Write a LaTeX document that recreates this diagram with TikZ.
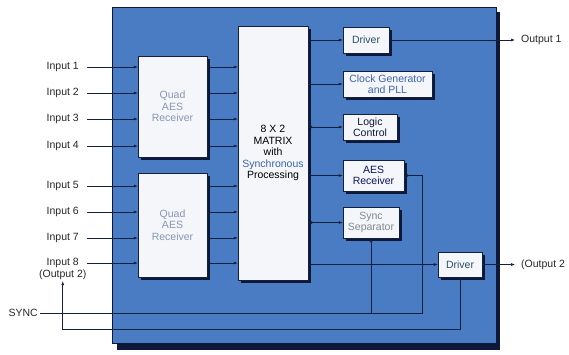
\documentclass[tikz,border=0pt]{standalone}
\usepackage{fontspec}
\setmainfont{Liberation Sans}
\usepackage{xcolor}
\usetikzlibrary{arrows.meta, positioning, shadows}

\definecolor{panelblue}{RGB}{74,124,196}
\definecolor{paneldark}{RGB}{14,24,56}
\definecolor{wirecol}{RGB}{20,32,64}
\definecolor{boxfill}{RGB}{244,246,250}
\definecolor{quadtext}{RGB}{135,150,178}
\definecolor{synblue}{RGB}{60,100,170}
\definecolor{teal}{RGB}{40,80,105}
\definecolor{greytext}{RGB}{130,138,145}

\begin{document}
\begin{tikzpicture}[
      x=1pt, y=-1pt,
      font=\fontsize{10.5}{11.5}\selectfont,
      blk/.style={rectangle, draw=wirecol, fill=boxfill, thin, align=center, inner sep=1pt,
        drop shadow={shadow xshift=2.5pt, shadow yshift=-2.5pt, fill=paneldark, opacity=1}},
      lbl/.style={anchor=east, inner xsep=8pt, inner ysep=1pt, text=black!85},
      outlbl/.style={anchor=west, inner xsep=6pt, inner ysep=1pt, text=black!85},
      arr/.style={-{Latex[length=4pt,width=3pt]}, semithick, draw=wirecol},
      biarr/.style={{Latex[length=4pt,width=3pt]}-{Latex[length=4pt,width=3pt]}, semithick, draw=wirecol},
      wire/.style={semithick, draw=wirecol}
    ]
      \useasboundingbox (0,0) rectangle (569,354);
      % panel with its dark edge
      \fill[paneldark] (117,12) rectangle (500,350);
      \filldraw[fill=panelblue, draw=paneldark] (112,7) rectangle (496,343);

      \node[blk, minimum width=69pt, minimum height=101pt, text=quadtext] (qa) at (172.5,106.5) {Quad\\AES\\Receiver};
      \node[blk, minimum width=69pt, minimum height=104pt, text=quadtext] (qb) at (172.5,225) {Quad\\AES\\Receiver};
      \node[blk, minimum width=70pt, minimum height=254pt] (mat) at (273,153)
        {8 X 2\\MATRIX\\with\\\textcolor{synblue}{Synchronous}\\Processing};
      \node[blk, minimum width=46pt, minimum height=26pt, text=teal] (drv1) at (366,40) {Driver};
      \node[blk, minimum width=89pt, minimum height=26pt, text=synblue] (clk) at (387.5,84) {Clock Generator\\and PLL};
      \node[blk, minimum width=54pt, minimum height=26pt, text=paneldark] (logic) at (370,127) {Logic\\Control};
      \node[blk, minimum width=61pt, minimum height=31pt, text=paneldark!80!blue] (aes) at (373.5,175.5) {AES\\Receiver};
      \node[blk, minimum width=56pt, minimum height=31pt, text=greytext] (sync) at (371,222.5) {Sync\\Separator};
      \node[blk, minimum width=44pt, minimum height=25pt, text=teal] (drv2) at (460,264.5) {Driver};

      \node[lbl] (in1) at (87,67) {Input 1};
      \node[lbl] (in2) at (87,93) {Input 2};
      \node[lbl] (in3) at (87,119) {Input 3};
      \node[lbl] (in4) at (87,146) {Input 4};
      \node[lbl] (in5) at (87,186) {Input 5};
      \node[lbl] (in6) at (87,212) {Input 6};
      \node[lbl] (in7) at (87,238) {Input 7};
      \node[lbl] (in8) at (87,263) {Input 8};
      \node[text=black!85, inner sep=1pt, below=0pt of in8] (o2in) {(Output 2)};
      \node[lbl, inner xsep=2pt] (synclbl) at (40,313) {SYNC};
      \node[outlbl] (out1) at (515,40) {Output 1};
      \node[outlbl] (out2) at (515,264.5) {(Output 2};
      \coordinate (sj) at (422,313);
      \coordinate (lp) at (o2in |- 0,329);

      \draw[arr] (in1) -- (in1 -| qa.west);
      \draw[arr] (in2) -- (in2 -| qa.west);
      \draw[arr] (in3) -- (in3 -| qa.west);
      \draw[arr] (in4) -- (in4 -| qa.west);
      \draw[arr] (in5) -- (in5 -| qb.west);
      \draw[arr] (in6) -- (in6 -| qb.west);
      \draw[arr] (in7) -- (in7 -| qb.west);
      \draw[arr] (in8) -- (in8 -| qb.west);

      \draw[arr] (in1 -| qa.east) -- (in1 -| mat.west);
      \draw[arr] (in2 -| qa.east) -- (in2 -| mat.west);
      \draw[arr] (in3 -| qa.east) -- (in3 -| mat.west);
      \draw[arr] (in4 -| qa.east) -- (in4 -| mat.west);
      \draw[arr] (in5 -| qb.east) -- (in5 -| mat.west);
      \draw[arr] (in6 -| qb.east) -- (in6 -| mat.west);
      \draw[arr] (in7 -| qb.east) -- (in7 -| mat.west);
      \draw[arr] (in8 -| qb.east) -- (in8 -| mat.west);

      \draw[arr] (drv1 -| mat.east) -- (drv1);
      \draw[arr] (clk.west -| mat.east) -- (clk.west);
      \draw[biarr] (logic -| mat.east) -- (logic);
      \draw[arr] (aes -| mat.east) -- (aes);
      \draw[biarr] (sync -| mat.east) -- (sync);
      \draw[arr] (drv2 -| mat.east) -- (drv2);

      \draw[arr] (drv1) -- (out1);
      \draw[arr] (drv2) -- (out2);
      \draw[arr] (synclbl) -- (sj) |- (aes);
      \draw[arr] (sync |- sj) -- (sync);
      \draw[arr] (drv2) |- (lp) -- (o2in);
    \end{tikzpicture}
\end{document}
